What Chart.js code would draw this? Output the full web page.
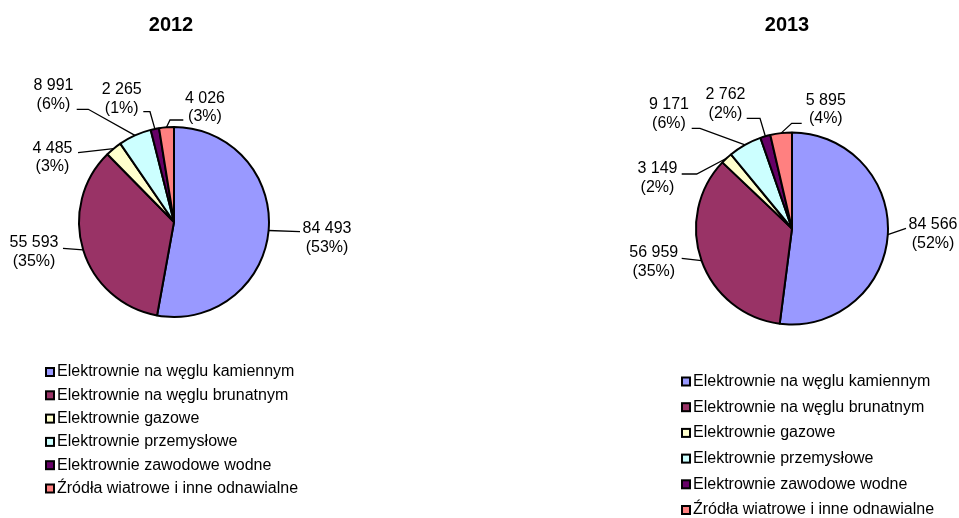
<!DOCTYPE html>
<html>
<head>
<meta charset="utf-8">
<script src="https://cdn.jsdelivr.net/npm/chart.js@4/dist/chart.umd.min.js"></script>
<style>
  html, body { margin: 0; padding: 0; background: #fff; }
  #wrap { position: relative; width: 959px; height: 518px; }
  .box { position: absolute; top: 0; height: 518px; }
</style>
</head>
<body>
<div id="wrap">
  <div class="box" style="left:0;width:480px"><canvas id="chart2012" width="480" height="518"></canvas></div>
  <div class="box" style="left:480px;width:479px"><canvas id="chart2013" width="479" height="518"></canvas></div>
</div>
<script>
var categories = [
  'Elektrownie na węglu kamiennym',
  'Elektrownie na węglu brunatnym',
  'Elektrownie gazowe',
  'Elektrownie przemysłowe',
  'Elektrownie zawodowe wodne',
  'Źródła wiatrowe i inne odnawialne'
];
var colors = ['#9999FF', '#993366', '#FFFFCC', '#CCFFFF', '#660066', '#FF8080'];
var values2012 = [84493, 55593, 4485, 8991, 2265, 4026];
var values2013 = [84566, 56959, 3149, 9171, 2762, 5895];

var FONT = '"Liberation Sans", Arial, sans-serif';

function fmt(v) {
  return String(v).replace(/\B(?=(\d{3})+(?!\d))/g, ' ');
}

// title, value labels with leader lines and the legend list
var pieExtras = {
  id: 'pieExtras',
  afterDraw: function(chart, args, opts) {
    var ctx = chart.ctx;
    var meta = chart.getDatasetMeta(0);
    var data = chart.data.datasets[0].data;
    var total = data.reduce(function(a, b) { return a + b; }, 0);
    ctx.save();
    ctx.fillStyle = '#000';
    ctx.textAlign = 'center';
    ctx.textBaseline = 'middle';
    ctx.font = 'bold 20px ' + FONT;
    ctx.fillText(opts.title, opts.titleX, opts.titleY);

    ctx.font = '16px ' + FONT;
    ctx.strokeStyle = '#000';
    ctx.lineWidth = 1.3;
    meta.data.forEach(function(arc, i) {
      var p = arc.getProps(['x', 'y', 'startAngle', 'endAngle', 'outerRadius'], true);
      var mid = (p.startAngle + p.endAngle) / 2;
      var sx = p.x + Math.cos(mid) * p.outerRadius;
      var sy = p.y + Math.sin(mid) * p.outerRadius;
      var L = opts.labels[i];
      var ex = p.x + L.end[0], ey = p.y + L.end[1];
      ctx.beginPath();
      ctx.moveTo(sx, sy);
      ctx.lineTo(ex + L.stub, ey);
      ctx.lineTo(ex, ey);
      ctx.stroke();
      var bx = p.x + L.box[0], by = p.y + L.box[1];
      ctx.fillText(fmt(data[i]), bx, by - 9.3);
      ctx.fillText('(' + Math.round(data[i] / total * 100) + '%)', bx, by + 9.3);
    });

    // legend
    var lg = opts.legend;
    ctx.textAlign = 'left';
    chart.data.labels.forEach(function(label, i) {
      var cy = lg.y + i * lg.step;
      ctx.fillStyle = '#000';
      ctx.fillRect(lg.x, cy - 5, 10, 10);
      ctx.fillStyle = colors[i];
      ctx.fillRect(lg.x + 2, cy - 3, 6, 6);
      ctx.fillStyle = '#000';
      ctx.fillText(label, lg.x + 12, cy);
    });
    ctx.restore();
  }
};

function makePie(id, values, padding, extras) {
  return new Chart(document.getElementById(id), {
    type: 'pie',
    data: {
      labels: categories,
      datasets: [{
        data: values,
        backgroundColor: colors,
        borderColor: '#000',
        borderWidth: 2,
        hoverBorderWidth: 2,
        hoverOffset: 0
      }]
    },
    options: {
      responsive: false,
      animation: false,
      events: [],
      layout: { padding: padding },
      plugins: {
        legend: { display: false },
        tooltip: { enabled: false },
        pieExtras: extras
      }
    },
    plugins: [pieExtras]
  });
}

makePie('chart2012', values2012,
  { left: 78, right: 210, top: 126, bottom: 200 },
  {
    title: '2012', titleX: 171, titleY: 25,
    legend: { x: 45, y: 372, step: 23.3 },
    labels: [
      { box: [153, 15.8], end: [126, 9.7], stub: 0 },
      { box: [-140, 30], end: [-111, 26.3], stub: 0 },
      { box: [-121.5, -64.5], end: [-96, -69.3], stub: 0 },
      { box: [-120.5, -127], end: [-97.3, -112.7], stub: 11.6 },
      { box: [-52.3, -123.2], end: [-30.7, -110.3], stub: 6.7 },
      { box: [31, -114.5], end: [9.3, -102], stub: -13.3 }
    ]
  });

makePie('chart2013', values2013,
  { left: 215, right: 70, top: 131.5, bottom: 192.5 },
  {
    title: '2013', titleX: 307, titleY: 25,
    legend: { x: 201, y: 381.5, step: 25.7 },
    labels: [
      { box: [141, 5.5], end: [114, -0.2], stub: 0 },
      { box: [-138.2, 33.7], end: [-110.3, 29.8], stub: 0 },
      { box: [-134.5, -50.3], end: [-110.3, -54.5], stub: 15 },
      { box: [-123, -114.7], end: [-100.3, -100.2], stub: 8.3 },
      { box: [-66.5, -124.3], end: [-45.3, -110.2], stub: 13.3 },
      { box: [33.8, -118.8], end: [9.7, -105.2], stub: -10 }
    ]
  });
</script>
</body>
</html>
